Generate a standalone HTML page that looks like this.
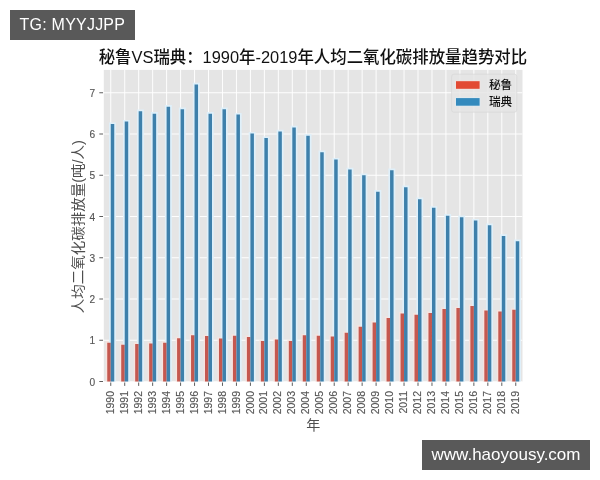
<!DOCTYPE html>
<html lang="zh-CN">
<head>
<meta charset="utf-8">
<title>秘鲁VS瑞典：1990年-2019年人均二氧化碳排放量趋势对比</title>
<style>
html,body{margin:0;padding:0;background:#fff;}
body{width:600px;height:480px;overflow:hidden;position:relative;font-family:"Liberation Sans",sans-serif;}
svg{position:absolute;left:0;top:0;display:block;will-change:transform;}
svg text{font-family:"Liberation Sans",sans-serif;}
.tag{position:absolute;background:#595959;color:#fff;font-family:"Liberation Sans",sans-serif;white-space:nowrap;box-sizing:border-box;will-change:transform;}
#tg{left:10px;top:10px;width:125px;height:30px;font-size:16px;line-height:30px;padding-left:9.6px;letter-spacing:0.22px;}
#site{left:422px;top:440px;width:168px;height:30px;font-size:17px;line-height:29.4px;text-align:center;}
</style>
</head>
<body>
<svg width="600" height="480" viewBox="0 0 600 480">
<rect x="103.8" y="69.9" width="418.7" height="311.6" fill="#e5e5e5"/>
<clipPath id="pc"><rect x="103.8" y="69.9" width="418.7" height="311.6"/></clipPath>
<path clip-path="url(#pc)" d="M103.8 381.5H522.5M103.8 340.25H522.5M103.8 299H522.5M103.8 257.75H522.5M103.8 216.5H522.5M103.8 175.25H522.5M103.8 134H522.5M103.8 92.75H522.5M110.75 69.9V381.5M124.72 69.9V381.5M138.68 69.9V381.5M152.65 69.9V381.5M166.61 69.9V381.5M180.58 69.9V381.5M194.55 69.9V381.5M208.51 69.9V381.5M222.48 69.9V381.5M236.44 69.9V381.5M250.41 69.9V381.5M264.38 69.9V381.5M278.34 69.9V381.5M292.31 69.9V381.5M306.27 69.9V381.5M320.24 69.9V381.5M334.21 69.9V381.5M348.17 69.9V381.5M362.14 69.9V381.5M376.1 69.9V381.5M390.07 69.9V381.5M404.04 69.9V381.5M418 69.9V381.5M431.97 69.9V381.5M445.93 69.9V381.5M459.9 69.9V381.5M473.87 69.9V381.5M487.83 69.9V381.5M501.8 69.9V381.5M515.76 69.9V381.5" stroke="#fff" stroke-width="0.95" fill="none"/>
<path clip-path="url(#pc)" d="M107.25 381.5H110.75V342.73H107.25ZM121.22 381.5H124.72V344.79H121.22ZM135.18 381.5H138.68V343.96H135.18ZM149.15 381.5H152.65V343.55H149.15ZM163.11 381.5H166.61V342.73H163.11ZM177.08 381.5H180.58V338.19H177.08ZM191.05 381.5H194.55V335.3H191.05ZM205.01 381.5H208.51V336.12H205.01ZM218.98 381.5H222.48V338.6H218.98ZM232.94 381.5H236.44V335.71H232.94ZM246.91 381.5H250.41V336.95H246.91ZM260.88 381.5H264.38V341.07H260.88ZM274.84 381.5H278.34V339.43H274.84ZM288.81 381.5H292.31V341.07H288.81ZM302.77 381.5H306.27V335.3H302.77ZM316.74 381.5H320.24V335.71H316.74ZM330.71 381.5H334.21V336.54H330.71ZM344.67 381.5H348.17V332.82H344.67ZM358.64 381.5H362.14V326.64H358.64ZM372.6 381.5H376.1V322.51H372.6ZM386.57 381.5H390.07V317.98H386.57ZM400.54 381.5H404.04V313.44H400.54ZM414.5 381.5H418V314.68H414.5ZM428.47 381.5H431.97V313.02H428.47ZM442.43 381.5H445.93V308.9H442.43ZM456.4 381.5H459.9V308.07H456.4ZM470.37 381.5H473.87V306.01H470.37ZM484.33 381.5H487.83V310.55H484.33ZM498.3 381.5H501.8V311.38H498.3ZM512.26 381.5H515.76V309.73H512.26Z" fill="none" stroke="#f8e3de" stroke-width="2.8"/>
<path clip-path="url(#pc)" d="M110.75 381.5H114.25V124.1H110.75ZM124.72 381.5H128.22V121.62H124.72ZM138.68 381.5H142.18V111.31H138.68ZM152.65 381.5H156.15V113.79H152.65ZM166.61 381.5H170.11V106.77H166.61ZM180.58 381.5H184.08V109.25H180.58ZM194.55 381.5H198.05V84.5H194.55ZM208.51 381.5H212.01V113.79H208.51ZM222.48 381.5H225.98V109.25H222.48ZM236.44 381.5H239.94V114.61H236.44ZM250.41 381.5H253.91V133.59H250.41ZM264.38 381.5H267.88V138.12H264.38ZM278.34 381.5H281.84V131.53H278.34ZM292.31 381.5H295.81V127.4H292.31ZM306.27 381.5H309.77V135.65H306.27ZM320.24 381.5H323.74V152.15H320.24ZM334.21 381.5H337.71V159.58H334.21ZM348.17 381.5H351.67V169.48H348.17ZM362.14 381.5H365.64V175.25H362.14ZM376.1 381.5H379.6V191.75H376.1ZM390.07 381.5H393.57V170.3H390.07ZM404.04 381.5H407.54V187.21H404.04ZM418 381.5H421.5V199.18H418ZM431.97 381.5H435.47V207.84H431.97ZM445.93 381.5H449.43V215.68H445.93ZM459.9 381.5H463.4V217.32H459.9ZM473.87 381.5H477.37V220.62H473.87ZM487.83 381.5H491.33V225.16H487.83ZM501.8 381.5H505.3V235.89H501.8ZM515.76 381.5H519.26V241.25H515.76Z" fill="none" stroke="#dff0fa" stroke-width="3.4"/>
<path d="M107.25 381.5H110.75V342.73H107.25ZM121.22 381.5H124.72V344.79H121.22ZM135.18 381.5H138.68V343.96H135.18ZM149.15 381.5H152.65V343.55H149.15ZM163.11 381.5H166.61V342.73H163.11ZM177.08 381.5H180.58V338.19H177.08ZM191.05 381.5H194.55V335.3H191.05ZM205.01 381.5H208.51V336.12H205.01ZM218.98 381.5H222.48V338.6H218.98ZM232.94 381.5H236.44V335.71H232.94ZM246.91 381.5H250.41V336.95H246.91ZM260.88 381.5H264.38V341.07H260.88ZM274.84 381.5H278.34V339.43H274.84ZM288.81 381.5H292.31V341.07H288.81ZM302.77 381.5H306.27V335.3H302.77ZM316.74 381.5H320.24V335.71H316.74ZM330.71 381.5H334.21V336.54H330.71ZM344.67 381.5H348.17V332.82H344.67ZM358.64 381.5H362.14V326.64H358.64ZM372.6 381.5H376.1V322.51H372.6ZM386.57 381.5H390.07V317.98H386.57ZM400.54 381.5H404.04V313.44H400.54ZM414.5 381.5H418V314.68H414.5ZM428.47 381.5H431.97V313.02H428.47ZM442.43 381.5H445.93V308.9H442.43ZM456.4 381.5H459.9V308.07H456.4ZM470.37 381.5H473.87V306.01H470.37ZM484.33 381.5H487.83V310.55H484.33ZM498.3 381.5H501.8V311.38H498.3ZM512.26 381.5H515.76V309.73H512.26Z" fill="#c4584f"/>
<path d="M110.75 381.5H114.25V124.1H110.75ZM124.72 381.5H128.22V121.62H124.72ZM138.68 381.5H142.18V111.31H138.68ZM152.65 381.5H156.15V113.79H152.65ZM166.61 381.5H170.11V106.77H166.61ZM180.58 381.5H184.08V109.25H180.58ZM194.55 381.5H198.05V84.5H194.55ZM208.51 381.5H212.01V113.79H208.51ZM222.48 381.5H225.98V109.25H222.48ZM236.44 381.5H239.94V114.61H236.44ZM250.41 381.5H253.91V133.59H250.41ZM264.38 381.5H267.88V138.12H264.38ZM278.34 381.5H281.84V131.53H278.34ZM292.31 381.5H295.81V127.4H292.31ZM306.27 381.5H309.77V135.65H306.27ZM320.24 381.5H323.74V152.15H320.24ZM334.21 381.5H337.71V159.58H334.21ZM348.17 381.5H351.67V169.48H348.17ZM362.14 381.5H365.64V175.25H362.14ZM376.1 381.5H379.6V191.75H376.1ZM390.07 381.5H393.57V170.3H390.07ZM404.04 381.5H407.54V187.21H404.04ZM418 381.5H421.5V199.18H418ZM431.97 381.5H435.47V207.84H431.97ZM445.93 381.5H449.43V215.68H445.93ZM459.9 381.5H463.4V217.32H459.9ZM473.87 381.5H477.37V220.62H473.87ZM487.83 381.5H491.33V225.16H487.83ZM501.8 381.5H505.3V235.89H501.8ZM515.76 381.5H519.26V241.25H515.76Z" fill="#3e80ab"/>
<path d="M99.3 381.5H103M99.3 340.25H103M99.3 299H103M99.3 257.75H103M99.3 216.5H103M99.3 175.25H103M99.3 134H103M99.3 92.75H103M110.75 382.5V385.9M124.72 382.5V385.9M138.68 382.5V385.9M152.65 382.5V385.9M166.61 382.5V385.9M180.58 382.5V385.9M194.55 382.5V385.9M208.51 382.5V385.9M222.48 382.5V385.9M236.44 382.5V385.9M250.41 382.5V385.9M264.38 382.5V385.9M278.34 382.5V385.9M292.31 382.5V385.9M306.27 382.5V385.9M320.24 382.5V385.9M334.21 382.5V385.9M348.17 382.5V385.9M362.14 382.5V385.9M376.1 382.5V385.9M390.07 382.5V385.9M404.04 382.5V385.9M418 382.5V385.9M431.97 382.5V385.9M445.93 382.5V385.9M459.9 382.5V385.9M473.87 382.5V385.9M487.83 382.5V385.9M501.8 382.5V385.9M515.76 382.5V385.9" stroke="#555555" stroke-width="0.95" fill="none"/>
<g fill="#555555" stroke="#555555" stroke-width="0.15" font-size="11.67"><text transform="translate(95.1 385.55) scale(0.87 1)" text-anchor="end">0</text><text transform="translate(95.1 344.3) scale(0.87 1)" text-anchor="end">1</text><text transform="translate(95.1 303.05) scale(0.87 1)" text-anchor="end">2</text><text transform="translate(95.1 261.8) scale(0.87 1)" text-anchor="end">3</text><text transform="translate(95.1 220.55) scale(0.87 1)" text-anchor="end">4</text><text transform="translate(95.1 179.3) scale(0.87 1)" text-anchor="end">5</text><text transform="translate(95.1 138.05) scale(0.87 1)" text-anchor="end">6</text><text transform="translate(95.1 96.8) scale(0.87 1)" text-anchor="end">7</text></g>
<g fill="#555555" stroke="#555555" stroke-width="0.15" font-size="11.67"><text transform="translate(113.85 391) rotate(-90) scale(0.9 1)" text-anchor="end">1990</text><text transform="translate(127.82 391) rotate(-90) scale(0.9 1)" text-anchor="end">1991</text><text transform="translate(141.78 391) rotate(-90) scale(0.9 1)" text-anchor="end">1992</text><text transform="translate(155.75 391) rotate(-90) scale(0.9 1)" text-anchor="end">1993</text><text transform="translate(169.71 391) rotate(-90) scale(0.9 1)" text-anchor="end">1994</text><text transform="translate(183.68 391) rotate(-90) scale(0.9 1)" text-anchor="end">1995</text><text transform="translate(197.65 391) rotate(-90) scale(0.9 1)" text-anchor="end">1996</text><text transform="translate(211.61 391) rotate(-90) scale(0.9 1)" text-anchor="end">1997</text><text transform="translate(225.58 391) rotate(-90) scale(0.9 1)" text-anchor="end">1998</text><text transform="translate(239.54 391) rotate(-90) scale(0.9 1)" text-anchor="end">1999</text><text transform="translate(253.51 391) rotate(-90) scale(0.9 1)" text-anchor="end">2000</text><text transform="translate(267.48 391) rotate(-90) scale(0.9 1)" text-anchor="end">2001</text><text transform="translate(281.44 391) rotate(-90) scale(0.9 1)" text-anchor="end">2002</text><text transform="translate(295.41 391) rotate(-90) scale(0.9 1)" text-anchor="end">2003</text><text transform="translate(309.37 391) rotate(-90) scale(0.9 1)" text-anchor="end">2004</text><text transform="translate(323.34 391) rotate(-90) scale(0.9 1)" text-anchor="end">2005</text><text transform="translate(337.31 391) rotate(-90) scale(0.9 1)" text-anchor="end">2006</text><text transform="translate(351.27 391) rotate(-90) scale(0.9 1)" text-anchor="end">2007</text><text transform="translate(365.24 391) rotate(-90) scale(0.9 1)" text-anchor="end">2008</text><text transform="translate(379.2 391) rotate(-90) scale(0.9 1)" text-anchor="end">2009</text><text transform="translate(393.17 391) rotate(-90) scale(0.9 1)" text-anchor="end">2010</text><text transform="translate(407.14 391) rotate(-90) scale(0.9 1)" text-anchor="end">2011</text><text transform="translate(421.1 391) rotate(-90) scale(0.9 1)" text-anchor="end">2012</text><text transform="translate(435.07 391) rotate(-90) scale(0.9 1)" text-anchor="end">2013</text><text transform="translate(449.03 391) rotate(-90) scale(0.9 1)" text-anchor="end">2014</text><text transform="translate(463 391) rotate(-90) scale(0.9 1)" text-anchor="end">2015</text><text transform="translate(476.97 391) rotate(-90) scale(0.9 1)" text-anchor="end">2016</text><text transform="translate(490.93 391) rotate(-90) scale(0.9 1)" text-anchor="end">2017</text><text transform="translate(504.9 391) rotate(-90) scale(0.9 1)" text-anchor="end">2018</text><text transform="translate(518.86 391) rotate(-90) scale(0.9 1)" text-anchor="end">2019</text></g>
<text x="98.7" y="63.3" font-size="16.8" font-weight="500" fill="#111" textLength="428.4" lengthAdjust="spacingAndGlyphs" style="font-family:'Liberation Sans','Noto Sans CJK SC',sans-serif;">秘鲁VS瑞典：1990年-2019年人均二氧化碳排放量趋势对比</text>
<text x="313.3" y="429.7" font-size="14" fill="#4e4e4e" text-anchor="middle" style="font-family:'Liberation Sans','Noto Sans CJK SC',sans-serif;">年</text>
<text transform="translate(82.6 313.2) rotate(-90)" x="0" y="0" font-size="14" fill="#4e4e4e" textLength="173" lengthAdjust="spacingAndGlyphs" style="font-family:'Liberation Sans','Noto Sans CJK SC',sans-serif;">人均二氧化碳排放量(吨/人)</text>
<rect x="451.6" y="74.2" width="65.2" height="38" rx="2.3" fill="#e5e5e5" fill-opacity="0.8" stroke="#d6d6d6" stroke-opacity="0.7" stroke-width="0.9"/>
<rect x="456" y="81.2" width="23.6" height="7.6" fill="#e24a33" stroke="#f3e4e0" stroke-width="1.4" paint-order="stroke"/>
<rect x="456" y="98.1" width="23.6" height="7.6" fill="#348abd" stroke="#dcebf4" stroke-width="1.4" paint-order="stroke"/>
<text x="488.9" y="89.3" font-size="11.67" font-weight="500" fill="#111" style="font-family:'Liberation Sans','Noto Sans CJK SC',sans-serif;">秘鲁</text>
<text x="488.9" y="106.1" font-size="11.67" font-weight="500" fill="#111" style="font-family:'Liberation Sans','Noto Sans CJK SC',sans-serif;">瑞典</text>
</svg>
<div class="tag" id="tg">TG: MYYJJPP</div>
<div class="tag" id="site">www.haoyousy.com</div>
</body>
</html>
